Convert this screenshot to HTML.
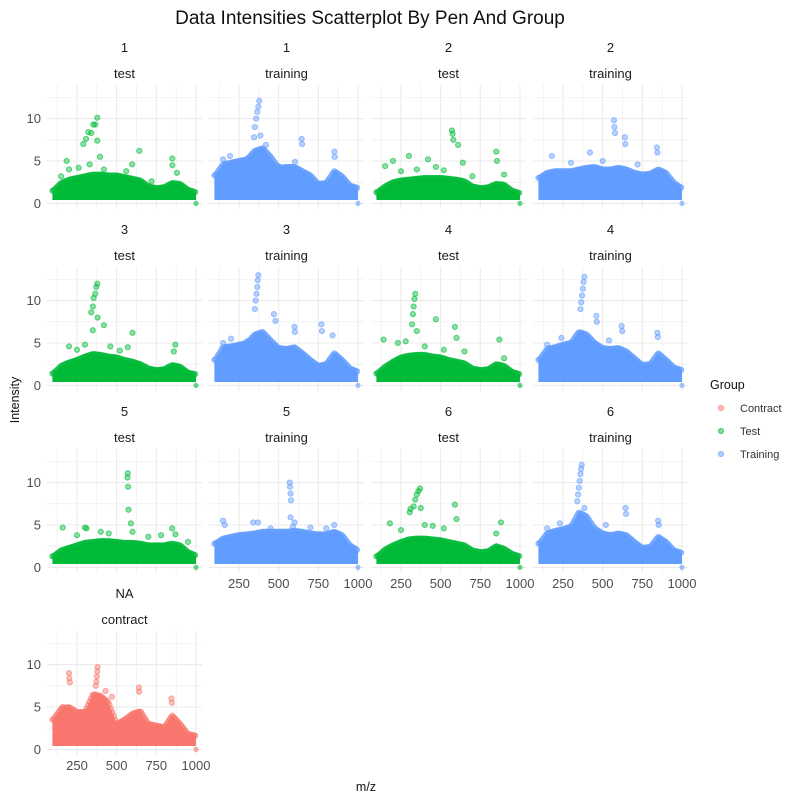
<!DOCTYPE html>
<html><head><meta charset="utf-8"><style>
body{margin:0;background:#fff;}
svg{font-family:"Liberation Sans","DejaVu Sans",sans-serif;}
</style></head><body>
<svg id="chart" width="800" height="800" xmlns="http://www.w3.org/2000/svg">
<text x="370" y="24" text-anchor="middle" font-size="19" fill="#111">Data Intensities Scatterplot By Pen And Group</text>
<text x="366" y="791" text-anchor="middle" font-size="12.5" fill="#111">m/z</text>
<text transform="translate(19,400) rotate(-90)" text-anchor="middle" font-size="12.5" fill="#111">Intensity</text>
<g>
<text x="710" y="389" font-size="12.5" fill="#111">Group</text>
<g><circle cx="721" cy="408" r="2.6" fill="#F8766D" fill-opacity="0.5" stroke="#F8766D" stroke-opacity="0.6"/><text x="740" y="412" font-size="11" fill="#333">Contract</text></g>
<g><circle cx="721" cy="431" r="2.6" fill="#00BA38" fill-opacity="0.5" stroke="#00BA38" stroke-opacity="0.6"/><text x="740" y="435" font-size="11" fill="#333">Test</text></g>
<g><circle cx="721" cy="454" r="2.6" fill="#619CFF" fill-opacity="0.5" stroke="#619CFF" stroke-opacity="0.6"/><text x="740" y="458" font-size="11" fill="#333">Training</text></g>
</g>
</svg>
<script>
// shared m/z bins for envelopes
const mzBins = [100,150,200,250,300,350,400,450,500,550,600,650,700,750,800,850,900,950,1000];
const xTicks = [250,500,750,1000];
const yTicks = [0,5,10];

// panel data: envelope = upper edge of dense cloud, spikes = sparse outliers
const env_1_test  = [1.5,2.4,2.8,3.0,3.2,3.4,3.4,3.3,3.3,3.1,2.9,2.7,2.0,1.8,1.9,2.4,2.3,1.6,1.3];
const mz_1_test   = [378,365,353,340,321,307,290,378,185,643,851,598,395,851,200,150,260,330,420,560,880,720];
const int_1_test  = [10.1,9.3,9.3,8.3,8.4,7.6,7.0,7.4,5.0,6.2,5.3,4.6,5.5,4.5,4.0,3.2,4.2,4.6,4.0,3.8,3.6,2.6];
const env_1_train = [3.3,4.6,4.8,5.0,5.2,6.2,6.5,5.5,4.2,4.3,4.3,3.8,3.3,2.3,2.4,3.8,3.2,2.1,1.8];
const mz_1_train  = [378,372,365,358,350,345,385,645,648,851,853,193,603,500,150,420];
const int_1_train = [12.1,11.4,10.8,10.0,9.0,7.8,8.0,7.6,7.0,6.1,5.5,5.6,4.9,4.4,5.2,6.9];
const env_2_test  = [1.3,2.0,2.5,2.7,2.8,2.9,3.0,3.0,3.0,2.9,2.8,2.6,2.0,1.8,1.9,2.3,2.2,1.5,1.2];
const mz_2_test   = [571,575,580,610,300,200,150,470,851,855,420,640,250,350,520,700,900];
const int_2_test  = [8.6,8.2,7.5,6.9,5.6,5.0,4.4,4.3,6.1,5.0,5.2,4.8,3.8,4.0,3.9,3.2,3.4];
const env_2_train = [3.0,3.6,3.8,3.8,3.8,4.0,4.2,4.3,4.0,4.0,4.2,4.0,3.6,3.4,3.5,4.0,3.6,2.4,1.8];
const mz_2_train  = [571,574,578,640,643,842,845,420,180,500,300,720];
const int_2_train = [9.8,9.0,8.3,7.8,7.0,6.6,6.0,6.0,5.6,5.0,4.8,4.6];
const env_3_test  = [1.4,2.3,2.7,3.0,3.4,3.7,3.6,3.4,3.3,3.0,2.8,2.5,2.0,1.8,1.9,2.4,2.2,1.5,1.3];
const mz_3_test   = [378,372,365,355,350,340,380,420,600,350,870,200,570,250,300,460,520,860];
const int_3_test  = [12.0,11.6,10.8,10.3,9.3,8.6,8.0,7.1,6.2,6.5,4.8,4.6,4.5,4.2,4.8,4.6,4.1,4.0];
const env_3_train = [3.0,4.5,4.6,4.8,5.0,6.0,6.3,5.3,4.4,4.3,4.5,3.8,3.0,2.3,2.5,3.8,3.0,2.0,1.6];
const mz_3_train  = [372,368,365,360,355,350,470,480,600,602,770,773,840,200,150,300];
const int_3_train = [13.0,12.4,11.6,10.8,10.0,9.0,8.4,7.6,6.9,6.3,7.2,6.4,5.9,5.5,5.0,5.2];
const env_4_test  = [1.4,2.2,2.8,3.3,3.5,3.6,3.6,3.4,3.3,3.0,2.8,2.6,2.0,1.8,1.9,2.5,2.3,1.6,1.3];
const mz_4_test   = [340,335,330,325,470,590,600,320,350,870,140,230,280,400,520,650,900];
const int_4_test  = [10.8,10.2,9.3,8.4,7.8,6.9,5.6,7.2,6.4,5.4,5.4,5.0,5.2,4.6,4.2,4.0,3.2];
const env_4_train = [3.0,4.3,4.5,4.8,5.0,6.3,6.0,5.0,4.4,4.3,4.4,4.0,3.2,2.4,2.5,3.8,3.0,2.1,1.8];
const mz_4_train  = [385,380,375,370,365,360,460,463,620,623,845,848,240,540,150];
const int_4_train = [12.8,12.2,11.4,10.6,9.8,9.0,8.2,7.5,7.0,6.4,6.2,5.7,5.6,5.3,4.8];
const env_5_test  = [1.3,2.0,2.3,2.6,2.9,3.0,3.1,3.1,3.0,2.9,2.9,2.8,2.6,2.6,2.6,2.8,2.6,1.8,1.4];
const mz_5_test   = [570,568,572,575,590,300,310,160,600,850,870,250,400,450,700,780,950];
const int_5_test  = [11.1,10.6,9.5,6.8,5.2,4.7,4.6,4.7,4.2,4.6,3.9,3.8,4.2,4.0,3.6,3.8,3.0];
const env_5_train = [2.8,3.4,3.6,3.8,3.9,4.0,4.2,4.2,4.2,4.2,4.3,4.2,4.0,3.9,3.9,4.2,3.8,2.6,2.0];
const mz_5_train  = [570,572,575,578,575,600,150,160,340,370,590,850,450,700,800];
const int_5_train = [10.0,9.5,8.7,7.9,5.9,5.3,5.5,5.0,5.3,5.3,4.8,5.0,4.6,4.7,4.6];
const env_6_test  = [1.3,2.1,2.6,3.0,3.3,3.4,3.4,3.3,3.2,3.0,2.8,2.6,2.0,1.8,1.9,2.5,2.2,1.6,1.3];
const mz_6_test   = [370,360,350,340,330,310,305,375,590,600,880,180,450,250,400,520,850];
const int_6_test  = [9.3,9.0,8.6,8.0,7.2,6.9,6.5,7.0,7.4,5.7,5.3,5.2,4.9,4.4,5.0,4.6,4.0];
const env_6_train = [2.8,4.0,4.3,4.5,4.8,6.5,6.0,4.6,4.0,3.8,4.0,3.8,3.0,2.3,2.4,3.6,3.0,2.0,1.7];
const mz_6_train  = [368,364,360,355,350,345,340,385,645,648,850,853,230,520,150];
const int_6_train = [12.1,11.6,11.0,10.2,9.4,8.6,7.8,7.0,7.0,6.3,5.5,5.0,5.2,5.0,4.6];
const env_na_contract = [3.5,4.8,5.0,4.4,4.4,6.5,6.3,5.5,3.0,3.5,4.2,4.5,3.0,2.8,2.6,4.0,3.0,1.8,1.6];
const mz_na_contract  = [200,202,205,380,378,375,372,368,430,640,642,845,848,470,160,310];
const int_na_contract = [9.0,8.4,7.9,9.7,9.2,8.6,8.0,7.5,6.9,7.3,6.8,6.0,5.5,6.2,5.0,4.5];

const panels = [
 ["1","test",env_1_test,mz_1_test,int_1_test,"#00BA38",0,0,"panel-1-test"],
 ["1","training",env_1_train,mz_1_train,int_1_train,"#619CFF",0,1,"panel-1-training"],
 ["2","test",env_2_test,mz_2_test,int_2_test,"#00BA38",0,2,"panel-2-test"],
 ["2","training",env_2_train,mz_2_train,int_2_train,"#619CFF",0,3,"panel-2-training"],
 ["3","test",env_3_test,mz_3_test,int_3_test,"#00BA38",1,0,"panel-3-test"],
 ["3","training",env_3_train,mz_3_train,int_3_train,"#619CFF",1,1,"panel-3-training"],
 ["4","test",env_4_test,mz_4_test,int_4_test,"#00BA38",1,2,"panel-4-test"],
 ["4","training",env_4_train,mz_4_train,int_4_train,"#619CFF",1,3,"panel-4-training"],
 ["5","test",env_5_test,mz_5_test,int_5_test,"#00BA38",2,0,"panel-5-test"],
 ["5","training",env_5_train,mz_5_train,int_5_train,"#619CFF",2,1,"panel-5-training"],
 ["6","test",env_6_test,mz_6_test,int_6_test,"#00BA38",2,2,"panel-6-test"],
 ["6","training",env_6_train,mz_6_train,int_6_train,"#619CFF",2,3,"panel-6-training"],
 ["NA","contract",env_na_contract,mz_na_contract,int_na_contract,"#F8766D",3,0,"panel-na-contract"]
];

const NS="http://www.w3.org/2000/svg";
const svg=document.getElementById('chart');
const colX=[47,209,371,533], PW=155, rowTop=[85,267,449,631], PH=124;
const XMIN=61, XMAX=1038, YMIN=-0.66, YMAX=13.96;
function mk(tag,attrs,parent){const e=document.createElementNS(NS,tag);for(const k in attrs)e.setAttribute(k,attrs[k]);(parent||svg).appendChild(e);return e;}
function interp(env,m){if(m<=mzBins[0])return env[0];for(let i=0;i<mzBins.length-1;i++){if(m<=mzBins[i+1]){const t=(m-mzBins[i])/(mzBins[i+1]-mzBins[i]);return env[i]+t*(env[i+1]-env[i]);}}return env[env.length-1];}

panels.forEach(p=>{
 const [pen,grp,env,smz,sint,col,r,c,name]=p;
 const x0=colX[c], y0=rowTop[r];
 const sx=m=>x0+(m-XMIN)/(XMAX-XMIN)*PW;
 const sy=v=>y0+PH-(v-YMIN)/(YMAX-YMIN)*PH;
 const g=mk('g',{});
 
 
 const s1=mk('text',{x:x0+PW/2,y:y0-33,'text-anchor':'middle','font-size':13,fill:'#1a1a1a'},g);s1.textContent=pen;
 
 
 const s2=mk('text',{x:x0+PW/2,y:y0-7,'text-anchor':'middle','font-size':13,fill:'#1a1a1a'},g);s2.textContent=grp;
 
 
 for(let m=125;m<=1000;m+=125){mk('line',{x1:sx(m),x2:sx(m),y1:y0,y2:y0+PH,stroke:'#EBEBEB','stroke-width':(m%250===0)?1.1:0.6},g);}
 [0,2.5,5,7.5,10,12.5].forEach(v=>mk('line',{x1:x0,x2:x0+PW,y1:sy(v),y2:sy(v),stroke:'#EBEBEB','stroke-width':(v%5===0)?1.1:0.6},g));
 let pts=[];
 for(let m=95;m<=1000;m+=5)pts.push(sx(m)+','+sy(interp(env,m)));
 pts.push(sx(1000)+','+sy(0.4));pts.push(sx(95)+','+sy(0.4));
 const poly=mk('polygon',{points:pts.join(' '),fill:col},g);
 
 
 for(let m=95;m<=1000;m+=9){
  const ci=mk('circle',{cx:sx(m),cy:sy(interp(env,m)),r:2.6,fill:col,'fill-opacity':0.5,stroke:col,'stroke-opacity':0.6},g);
  
  
 }
 const lo=mk('circle',{cx:sx(1000),cy:sy(0),r:2.6,fill:col,'fill-opacity':0.6},g);
 
 
 smz.forEach((m,i)=>{
  const ci=mk('circle',{cx:sx(m),cy:sy(sint[i]),r:2.6,fill:col,'fill-opacity':0.45,stroke:col,'stroke-opacity':0.6},g);
  
  
 });
 if(c===0){yTicks.forEach(v=>{const t=mk('text',{x:x0-6,y:sy(v)+4.5,'text-anchor':'end','font-size':13,fill:'#4D4D4D'},g);t.textContent=v;
  
  });}
 if((c===0&&r===3)||(c>0&&r===2)){xTicks.forEach(v=>{const t=mk('text',{x:sx(v),y:y0+PH+15,'text-anchor':'middle','font-size':13,fill:'#4D4D4D'},g);t.textContent=v;
  
  });}
});
</script>
</body></html>
